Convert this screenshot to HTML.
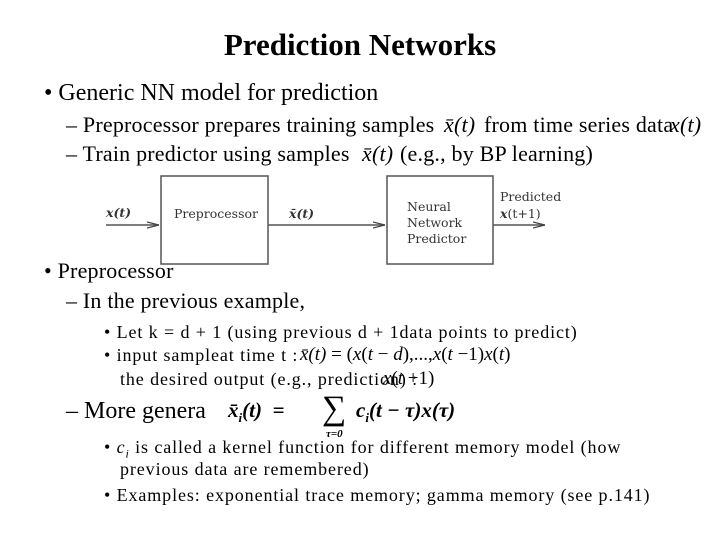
<!DOCTYPE html>
<html><head><style>
body{margin:0;width:720px;height:540px;background:#fff;position:relative;overflow:hidden;font-family:"Liberation Serif",serif;color:#000}
.t{position:absolute;white-space:nowrap}
.i{font-style:italic}
.s{font-size:18px;letter-spacing:0.9px}
.m{font-size:22px;letter-spacing:0.2px}
</style></head><body>
<div class="t" style="left:0;width:720px;text-align:center;top:27px;font-size:31px;font-weight:bold">Prediction Networks</div>
<div class="t" style="left:44px;top:80px;font-size:24px">• Generic NN model for prediction</div>
<div class="t m" style="left:66px;top:112px">– Preprocessor prepares training samples</div>
<div class="t m i" style="left:444px;top:112px">x̄(t)</div>
<div class="t m" style="left:484px;top:112px">from time series data</div>
<div class="t m i" style="left:670px;top:112px">x(t)</div>
<div class="t m" style="left:66px;top:141px">– Train predictor using samples</div>
<div class="t m i" style="left:362px;top:141px">x̄(t)</div>
<div class="t m" style="left:400px;top:141px">(e.g., by BP learning)</div>

<svg style="position:absolute;left:0;top:0" width="720" height="540">
<defs><marker id="a" markerWidth="12" markerHeight="8" refX="12" refY="4" orient="auto" markerUnits="userSpaceOnUse"><path d="M0,1 L12,4 L0,7" fill="none" stroke="#444" stroke-width="1.3"/></marker></defs>
<g stroke="#555" stroke-width="1.5" fill="none">
<rect x="161" y="176" width="107" height="88"/>
<rect x="387" y="176" width="106" height="88"/>
<line x1="106" y1="225" x2="159" y2="225" marker-end="url(#a)"/>
<line x1="268" y1="225" x2="385" y2="225" marker-end="url(#a)"/>
<line x1="493" y1="225" x2="545" y2="225" marker-end="url(#a)"/>
</g>
<g font-family="DejaVu Serif, Liberation Serif, serif" font-size="12.5" fill="#333">
<text x="106" y="217" font-weight="bold" font-style="italic">x(t)</text>
<text x="174" y="218">Preprocessor</text>
<text x="289" y="218" font-weight="bold" font-style="italic">x̄(t)</text>
<text x="407" y="211">Neural</text>
<text x="407" y="227">Network</text>
<text x="407" y="243">Predictor</text>
<text x="500" y="201">Predicted</text>
<text x="500" y="218"><tspan font-weight="bold" font-style="italic">x</tspan>(t+1)</text>
</g>
</svg>

<div class="t m" style="left:44px;top:258px">• Preprocessor</div>
<div class="t m" style="left:66px;top:288px">– In the previous example,</div>
<div class="t s" style="left:104px;top:322px">• Let k = d + 1 (using previous d + 1data points to predict)</div>
<div class="t s" style="left:104px;top:345px">• input sampleat time t :</div>
<div class="t" style="left:300px;top:344px;font-size:19px"><span class="i">x̄(t)</span> = (<span class="i">x</span>(<span class="i">t</span> − <span class="i">d</span>),...,<span class="i">x</span>(<span class="i">t</span> −1)<span class="i">x</span>(<span class="i">t</span>)</div>
<div class="t s" style="left:120px;top:369px">the desired output (e.g., prediction) :</div>
<div class="t" style="left:383px;top:368px;font-size:19px"><span class="i">x</span>(<span class="i">t</span> +1)</div>
<div class="t" style="left:66px;top:398px;font-size:24px">– More genera</div>
<div class="t" style="left:228px;top:398px;font-size:21px;font-weight:bold;font-style:italic">x̄<sub style="font-size:13px">i</sub>(t) &nbsp;=</div>
<div class="t" style="left:322px;top:390px;font-size:34px">∑</div>
<div class="t" style="left:356px;top:398px;font-size:21px;font-weight:bold;font-style:italic">c<sub style="font-size:13px">i</sub>(t − τ)x(τ)</div>
<div class="t" style="left:326px;top:428px;font-size:11px;font-weight:bold;font-style:italic">τ=0</div>
<div class="t s" style="left:104px;top:437px">• <span class="i">c<sub style="font-size:12px">i</sub></span> is called a kernel function for different memory model (how</div>
<div class="t s" style="left:120px;top:459px">previous data are remembered)</div>
<div class="t s" style="left:104px;top:485px">• Examples: exponential trace memory; gamma memory (see p.141)</div>
</body></html>
